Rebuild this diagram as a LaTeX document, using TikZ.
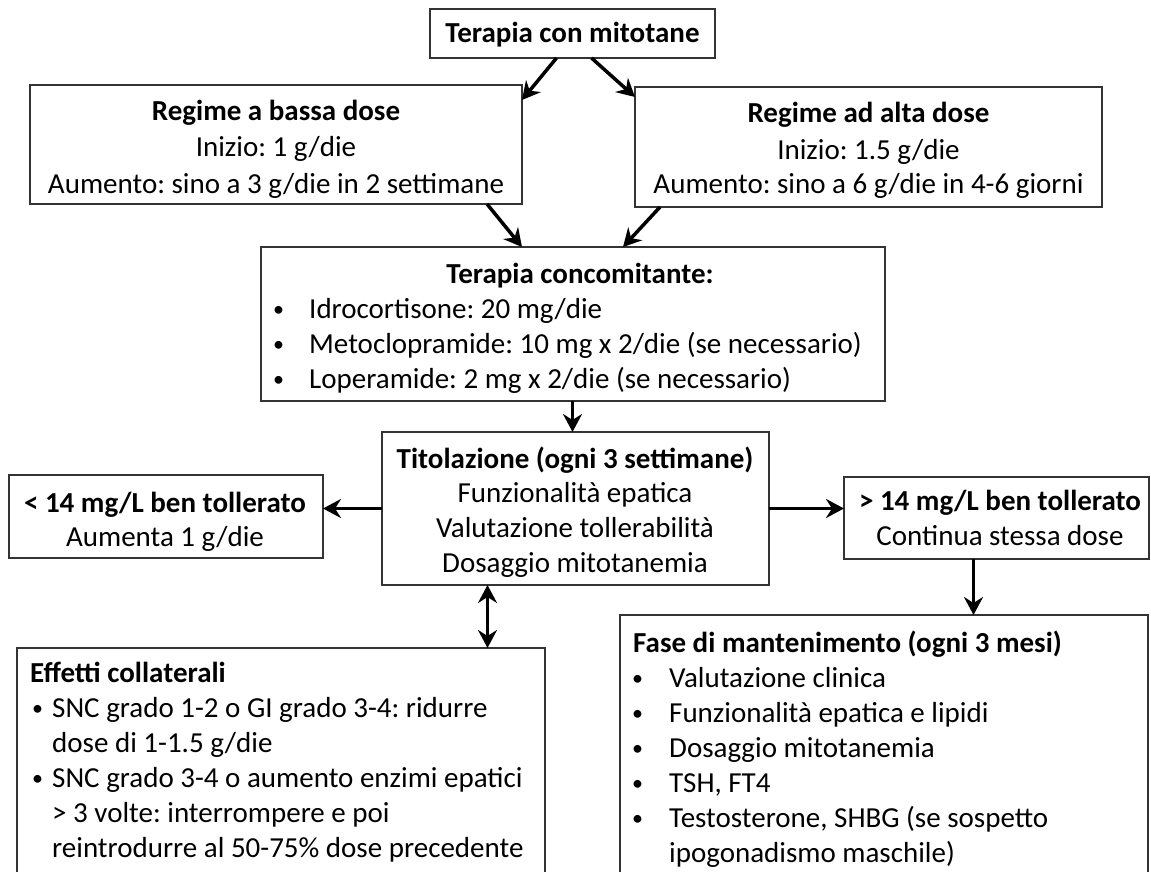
\documentclass[tikz,border=0pt]{standalone}
\usepackage{fontspec}
\setmainfont{Carlito}
\usetikzlibrary{arrows.meta}
\newcommand{\bul}{\raisebox{1.5pt}{\fontsize{22}{22}\selectfont •}}
\begin{document}
\begin{tikzpicture}[x=1pt,y=-1pt,
  every node/.append style={font=\fontsize{29}{35}\selectfont\frenchspacing},
  box/.style={draw=black!80,line width=1.6pt,inner sep=0pt,outer sep=0pt,anchor=north west},
  t/.style={inner sep=0pt,anchor=base},
  tl/.style={inner sep=0pt,anchor=base west},
  arr/.style={line width=3.5pt,-{Stealth[length=18pt,width=19pt,inset=6pt]}},
  darr/.style={line width=3.5pt,{Stealth[length=18pt,width=19pt,inset=6pt]}-{Stealth[length=18pt,width=19pt,inset=6pt]}}]
\useasboundingbox (0,0) rectangle (1151,872);
\clip (0,0) rectangle (1151,872);
\fill[white] (0,0) rectangle (1151,872);
% boxes
\node[box,minimum width=285pt,minimum height=49pt] (top) at (430,9) {};
\node[box,minimum width=492pt,minimum height=119pt] (lreg) at (30,85) {};
\node[box,minimum width=467pt,minimum height=120pt] (rreg) at (635,87) {};
\node[box,minimum width=624pt,minimum height=154pt] (conc) at (261,247) {};
\node[box,minimum width=387pt,minimum height=153pt] (tit) at (382,432) {};
\node[box,minimum width=314pt,minimum height=83pt] (lsm) at (9,475) {};
\node[box,minimum width=305pt,minimum height=82pt] (rsm) at (844,477) {};
\node[box,minimum width=528pt,minimum height=300pt] (eff) at (17,648) {};
\node[box,minimum width=528pt,minimum height=300pt] (fase) at (620,615) {};
% texts
\node[t] (topT) at (572.5,43) {\bfseries Terapia con mitotane};
\node[t] (lregA) at (276,121) {\bfseries Regime a bassa dose};
\node[t] (lregB) at (276,157) {Inizio: 1 g/die};
\node[t] (lregC) at (276,193) {Aumento: sino a 3 g/die in 2 settimane};
\node[t] (rregA) at (868.5,123) {\bfseries Regime ad alta dose};
\node[t] (rregB) at (868.5,159) {Inizio: 1.5 g/die};
\node[t] (rregC) at (868.5,193) {Aumento: sino a 6 g/die in 4-6 giorni};
\node[t] (concA) at (580,283) {\bfseries Terapia concomitante:};
\node[tl] (concb1) at (273,318) {\bul};
\node[tl] (concb2) at (273,353) {\bul};
\node[tl] (concb3) at (273,388) {\bul};
\node[tl] (concB) at (309,318) {Idrocortisone: 20 mg/die};
\node[tl] (concC) at (309,353) {Metoclopramide: 10 mg x 2/die (se necessario)};
\node[tl] (concD) at (309,388) {Loperamide: 2 mg x 2/die (se necessario)};
\node[t] (titA) at (575,468) {\bfseries Titolazione (ogni 3 settimane)};
\node[t] (titB) at (575,502) {Funzionalità epatica};
\node[t] (titC) at (575,537) {Valutazione tollerabilità};
\node[t] (titD) at (575,572) {Dosaggio mitotanemia};
\node[t] (lsmA) at (165,512) {\bfseries < 14 mg/L ben tollerato};
\node[t] (lsmB) at (165,546) {Aumenta 1 g/die};
\node[t] (rsmA) at (1000,510) {\bfseries > 14 mg/L ben tollerato};
\node[t] (rsmB) at (1000,545) {Continua stessa dose};
\node[tl] (effA) at (30,682) {\bfseries Effetti collaterali};
\node[tl] (effb1) at (32,717) {\bul};
\node[tl] (effb2) at (32,787) {\bul};
\node[tl] (effB) at (52,717) {SNC grado 1-2 o GI grado 3-4: ridurre};
\node[tl] (effC) at (52,752) {dose di 1-1.5 g/die};
\node[tl] (effD) at (52,787) {SNC grado 3-4 o aumento enzimi epatici};
\node[tl] (effE) at (52,822) {> 3 volte: interrompere e poi};
\node[tl] (effF) at (52,857) {reintrodurre al 50-75\% dose precedente};
\node[tl] (faseA) at (633,652) {\bfseries Fase di mantenimento (ogni 3 mesi)};
\node[tl] (faseb1) at (632,687) {\bul};
\node[tl] (faseb2) at (632,722) {\bul};
\node[tl] (faseb3) at (632,757) {\bul};
\node[tl] (faseb4) at (632,792) {\bul};
\node[tl] (faseb5) at (632,827) {\bul};
\node[tl] (faseB) at (669,687) {Valutazione clinica};
\node[tl] (faseC) at (669,722) {Funzionalità epatica e lipidi};
\node[tl] (faseD) at (669,757) {Dosaggio mitotanemia};
\node[tl] (faseE) at (669,792) {TSH, FT4};
\node[tl] (faseF) at (669,827) {Testosterone, SHBG (se sospetto};
\node[tl] (faseG) at (669,862) {ipogonadismo maschile)};
% connectors
\draw[arr] ([xshift=-16pt]top.south) -- ([yshift=-15pt]lreg.north east);
\draw[arr] ([xshift=19pt]top.south) -- ([yshift=-10pt]rreg.north west);
\draw[arr] ([xshift=-35pt]lreg.south east) -- ([xshift=-51pt]conc.north);
\draw[arr] ([xshift=25pt]rreg.south west) -- ([xshift=50pt]conc.north);
\coordinate (c1) at ([xshift=-3pt]tit.north);
\draw[arr] (c1 |- conc.south) -- (c1);
\draw[arr] (tit.west) -- (tit.west -| lsm.east);
\draw[arr] (tit.east) -- (tit.east -| rsm.west);
\coordinate (c2) at ([xshift=-23pt]rsm.south);
\draw[arr] (c2) -- (c2 |- fase.north);
\coordinate (c3) at ([xshift=-88pt]tit.south);
\draw[darr] (c3) -- (c3 |- eff.north);
\end{tikzpicture}
\end{document}
